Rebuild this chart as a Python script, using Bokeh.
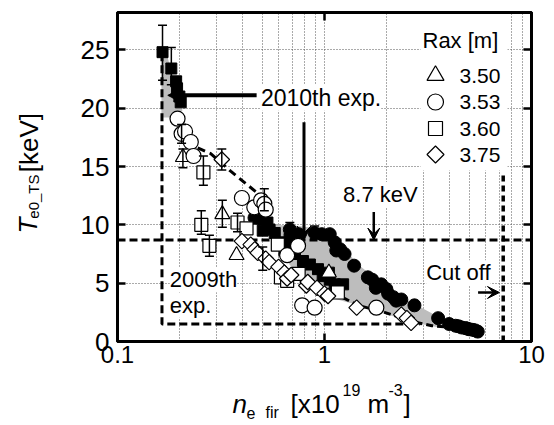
import math
from bokeh.plotting import figure
from bokeh.layouts import row, column
from bokeh.models import (Range1d, FixedTicker, LogAxis, LinearAxis, Label, Arrow,
                          VeeHead, NormalHead, TeeHead, Whisker, ColumnDataSource,
                          CustomJSTickFormatter)
from bokeh.embed import file_html
from bokeh.resources import INLINE

FONT = "Liberation Sans"

# ---------------- data ----------------
# 2010th experiment (filled markers)
fs_x = [0.165, 0.182, 0.192, 0.194, 0.199, 0.202, 0.473, 0.503, 0.53, 0.543, 0.575, 0.618,
        0.64, 0.678, 0.69, 0.72, 0.787, 0.85, 0.93, 0.98, 1.05, 1.06, 1.12, 1.23]
fs_y = [24.8, 23.4, 22.3, 21.7, 21.0, 20.5, 10.6, 9.5, 10.2, 9.6, 9.3, 8.5,
        7.8, 8.8, 8.1, 7.5, 6.9, 6.6, 6.2, 5.6, 5.9, 5.3, 4.9, 4.9]
fc_x = [0.459, 0.49, 0.68, 0.75, 0.896, 0.97, 1.06, 1.12, 1.14, 1.19, 1.25, 1.39, 1.62, 1.70,
        1.77, 1.88, 1.99, 2.03, 2.15, 2.22, 2.35, 2.72, 3.54, 4.0, 4.3, 4.45, 4.6, 4.8, 4.9,
        5.0, 5.2, 5.35, 5.5]
fc_y = [10.6, 10.5, 9.6, 9.2, 9.3, 9.2, 9.2, 8.5, 7.8, 7.9, 7.5, 6.5, 5.5, 5.3,
        4.6, 4.9, 4.5, 4.1, 3.8, 3.5, 3.6, 3.1, 2.0, 1.5, 1.35, 1.3, 1.2, 1.15, 1.1,
        1.05, 1.0, 0.95, 0.85]

# 2009th experiment (open markers), Rax [m]
rax_labels = ["3.50", "3.53", "3.60", "3.75"]
ot_x = [0.207, 0.321, 0.376, 1.05]                       # 3.50
ot_y = [15.8, 10.9, 7.4, 5.9]
oc_x = [0.195, 0.204, 0.212, 0.226, 0.233, 0.399, 0.458, 0.494, 0.512, 0.52, 0.66,
        0.745, 0.78, 0.896, 1.78]                        # 3.53
oc_y = [19.1, 17.8, 18.0, 17.1, 15.9, 12.3, 11.5, 12.1, 11.8, 11.3, 7.4,
        8.2, 3.1, 2.9, 2.9]
osq_x = [0.26, 0.254, 0.278, 0.38, 0.42, 0.595, 0.616, 0.66, 0.75, 1.16]   # 3.60
osq_y = [14.5, 10.0, 8.2, 10.2, 9.7, 8.3, 5.5, 5.2, 5.8, 4.2]
od_x = [0.319, 0.399, 0.44, 0.46, 0.476, 0.52, 0.54, 0.60, 0.64, 0.66, 0.69, 0.817,
        0.83, 0.92, 1.0, 1.04, 1.43, 2.35, 2.5, 2.62]    # 3.75
od_y = [15.6, 8.6, 8.3, 7.9, 7.6, 7.1, 6.8, 6.4, 5.9, 5.4, 5.7, 4.8,
        5.1, 4.6, 4.1, 3.9, 2.9, 2.3, 2.0, 1.6]

# error bars (x, lower, upper)
fs_err = dict(base=[0.165, 0.182, 0.194], lower=[22.4, 22.0, 20.9], upper=[27.1, 25.2, 22.7])
fc_err = dict(base=[0.68, 0.896], lower=[9.0, 8.8], upper=[10.2, 9.9])
oc_err = dict(base=[0.204, 0.512], lower=[17.0, 11.2], upper=[18.6, 13.1])
ot_err = dict(base=[0.207, 0.321], lower=[14.9, 9.8], upper=[16.5, 12.1])
osq_err = dict(base=[0.26, 0.254, 0.278, 0.38], lower=[13.4, 9.2, 7.3, 9.4],
               upper=[15.9, 11.2, 9.1, 11.0])
od_err = dict(base=[0.319, 0.503], lower=[14.7, 6.1], upper=[16.5, 8.1])

# shaded 2010 region
band1_x = [0.163, 0.172, 0.187, 0.206, 0.185, 0.163]
band1_y = [25.0, 24.8, 22.4, 19.8, 19.2, 19.2]
band2_x = [0.56, 0.75, 1.0, 1.2, 1.5, 2.0, 2.6, 3.4, 4.3, 5.3,
           5.3, 4.3, 3.3, 2.6, 1.95, 1.4, 1.0, 0.8, 0.65, 0.56]
band2_y = [10.0, 9.9, 9.6, 8.2, 6.4, 4.6, 3.4, 2.3, 1.6, 1.2,
           0.8, 1.05, 1.3, 1.7, 2.4, 3.2, 3.9, 5.0, 7.0, 9.0]
band_edge_x = [1.1, 1.45, 1.95, 2.6, 3.3, 4.1]
band_edge_y = [4.2, 3.1, 2.5, 1.75, 1.35, 1.2]
# 2009 trend line
trend_x = [0.20, 0.243, 0.282, 0.352, 0.476, 0.52]
trend_y = [18.2, 16.6, 16.1, 14.6, 12.7, 12.2]

TE_LIMIT = 8.7          # keV
CUTOFF_N = 7.3          # x10^19 m^-3
BOX_X = [0.164, 0.164, 2.9]
BOX_Y = [24.7, 1.5, 1.5]

x_ticks = [0.1, 1, 10]
y_ticks = [0, 5, 10, 15, 20, 25]
x_grid = [0.2, 0.3, 0.4, 0.5, 0.6, 0.7, 0.8, 0.9, 1, 2, 3, 4, 5, 6, 7, 8, 9]
y_grid = [5, 10, 15, 20, 25]

# ---------------- layout geometry (canvas pixels) ----------------
W, H = 554, 425
YL_W = 50          # width of the y-title strip
XL_H = 50          # height of the x-title strip
FL, FR, FT, FB = 117, 531, 12, 341     # frame edges on the whole canvas
XMIN, XMAX, YMIN, YMAX = 0.1, 10.0, 0.0, 28.2

p = figure(width=W - YL_W, height=H - XL_H, x_axis_type="log",
           x_range=Range1d(XMIN, XMAX), y_range=Range1d(YMIN, YMAX),
           output_backend="svg", toolbar_location=None, title=None,
           min_border_left=FL - YL_W, min_border_right=W - FR, min_border_top=FT,
           min_border_bottom=(H - XL_H) - FB)
p.background_fill_color = "white"
p.outline_line_color = "black"
p.outline_line_width = 3


def px2data(px, py):
    """canvas pixel -> data (used only for legend placement)"""
    lx = math.log10(XMIN) + (px - FL) / (FR - FL) * (math.log10(XMAX) - math.log10(XMIN))
    y = YMIN + (FB - py) / (FB - FT) * (YMAX - YMIN)
    return 10 ** lx, y


p.xaxis.ticker = FixedTicker(ticks=x_ticks)
p.xaxis.formatter = CustomJSTickFormatter(code="return tick.toString();")
p.yaxis.ticker = FixedTicker(ticks=y_ticks)
for ax, fs, so in [(p.xaxis[0], "24px", 4), (p.yaxis[0], "26px", 8)]:
    ax.major_tick_in = 8
    ax.major_tick_out = 0
    ax.major_tick_line_width = 2.5
    ax.minor_tick_line_color = None
    ax.axis_line_width = 3
    ax.major_label_text_font = FONT
    ax.major_label_text_font_size = fs
    ax.major_label_text_color = "black"
    ax.major_label_standoff = so

p.add_layout(LinearAxis(ticker=FixedTicker(ticks=y_ticks), major_tick_in=8, major_tick_out=0,
                        major_tick_line_width=2.5, minor_tick_line_color=None,
                        axis_line_width=3, formatter=CustomJSTickFormatter(code="return ' ';"),
                        major_label_text_font_size="2px", major_label_text_alpha=0,
                        major_label_standoff=0), "right")
p.add_layout(LogAxis(ticker=FixedTicker(ticks=x_ticks), major_tick_in=8, major_tick_out=0,
                     major_tick_line_width=2.5, minor_tick_line_color=None,
                     axis_line_width=3, formatter=CustomJSTickFormatter(code="return ' ';"),
                     major_label_text_font_size="2px", major_label_text_alpha=0,
                     major_label_standoff=0), "above")

p.xgrid.ticker = FixedTicker(ticks=x_grid)
p.ygrid.ticker = FixedTicker(ticks=y_grid)
for g in [p.xgrid[0], p.ygrid[0]]:
    g.grid_line_color = "#555555"
    g.grid_line_dash = "1 2"
    g.grid_line_width = 1

# legend background
lx0, ly0 = px2data(420, 170)
lx1, ly1 = px2data(507, FT)
p.quad(left=[lx0], right=[lx1], bottom=[ly0], top=[ly1], fill_color="white", line_color=None)

# shaded band
p.patch(band1_x, band1_y, fill_color="#bdbdbd", line_color=None)
p.patch(band2_x, band2_y, fill_color="#bdbdbd", line_color=None)
p.line(band_edge_x, band_edge_y, line_color="black", line_width=3, line_dash="7 4")

# dashed guides
p.line(BOX_X, BOX_Y, line_color="black", line_width=3, line_dash="8 4")
p.line([XMIN, XMAX], [TE_LIMIT, TE_LIMIT], line_color="black", line_width=3, line_dash="8 4")
p.line([CUTOFF_N, CUTOFF_N], [0, 14.3], line_color="black", line_width=3.5, line_dash="6 4")
p.line(trend_x, trend_y, line_color="black", line_width=3, line_dash="8 5")

# error bars
for err in [fs_err, fc_err, oc_err, ot_err, osq_err, od_err]:
    w = Whisker(source=ColumnDataSource(err), base="base", lower="lower", upper="upper",
                dimension="height", line_color="black", line_width=1.5, level="glyph",
                upper_head=TeeHead(size=9, line_width=1.5, line_color="black"),
                lower_head=TeeHead(size=9, line_width=1.5, line_color="black"))
    p.add_layout(w)

# markers
p.scatter(fs_x, fs_y, marker="square", size=11, fill_color="black", line_color="black")
p.scatter(fc_x, fc_y, marker="circle", size=13, fill_color="black", line_color="black")
p.scatter(osq_x, osq_y, marker="square", size=13, fill_color="white", line_color="black",
          line_width=1.2)
p.scatter(ot_x, ot_y, marker="triangle", size=15, fill_color="white", line_color="black",
          line_width=1.2)
p.scatter(oc_x, oc_y, marker="circle", size=15, fill_color="white", line_color="black",
          line_width=1.2)
p.scatter(od_x, od_y, marker="square", size=11, angle=math.pi / 4, fill_color="white",
          line_color="black", line_width=1.2)

# annotations
p.add_layout(Arrow(end=NormalHead(size=13, fill_color="black", line_color="black"),
                   x_start=0.47, y_start=21.1, x_end=0.175, y_end=21.1,
                   line_width=4, line_color="black"))
p.add_layout(Arrow(end=VeeHead(size=14, fill_color="black", line_color="black"),
                   x_start=0.796, y_start=18.8, x_end=0.796, y_end=TE_LIMIT,
                   line_width=3, line_color="black"))
p.add_layout(Arrow(end=VeeHead(size=12, fill_color="black", line_color="black"),
                   x_start=1.73, y_start=11.1, x_end=1.73, y_end=TE_LIMIT,
                   line_width=2.5, line_color="black"))
p.add_layout(Arrow(end=VeeHead(size=12, fill_color="black", line_color="black"),
                   x_start=5.52, y_start=4.2, x_end=7.0, y_end=4.2,
                   line_width=2.5, line_color="black"))


def txt(fig, x, y, s, size="22px", **kw):
    fig.add_layout(Label(x=x, y=y, text=s, text_font=FONT, text_font_size=size,
                         text_color="black", **kw))


txt(p, 0.493, 20.9, "2010th exp.", "23px", text_baseline="middle", background_fill_color="white")
txt(p, 1.229, 12.6, "8.7 keV", text_baseline="middle", background_fill_color="white")
txt(p, 3.10, 5.9, "Cut off", text_baseline="middle", background_fill_color="white")
txt(p, 0.179, 5.3, "2009th", text_baseline="middle", background_fill_color="white")
txt(p, 0.179, 3.1, "exp.", text_baseline="middle", background_fill_color="white")

# custom legend
tx, ty = px2data(422, 40)
txt(p, tx, ty, "Rax [m]", text_baseline="middle")
leg_rows = [75, 101.5, 128, 154]
leg_markers = [("triangle", 17, 0), ("circle", 16, 0), ("square", 14, 0), ("square", 12, math.pi / 4)]
for (mk, sz, ang), rw, lab in zip(leg_markers, leg_rows, rax_labels):
    mx, my = px2data(435, rw)
    p.scatter([mx], [my], marker=mk, size=sz, angle=ang, fill_color="white",
              line_color="black", line_width=1.2)
    lx, lyy = px2data(459, rw)
    txt(p, lx, lyy, lab, "21px", text_baseline="middle")


# ---------------- axis-title strips ----------------
def strip(w, h):
    f = figure(width=w, height=h, x_range=Range1d(0, w), y_range=Range1d(0, h),
               output_backend="svg", toolbar_location=None, min_border=0, title=None,
               x_axis_location=None, y_axis_location=None)
    f.outline_line_color = None
    f.grid.visible = False
    return f


ylab = strip(YL_W, H - XL_H)
xlab = strip(W, XL_H)

# empirical offsets of Bokeh's text anchor (px)
DY_X = -9           # horizontal strip: raise texts
DX_Y, DY_Y = -8, 19  # vertical strip: shift left and down


def ytxt(cx, cy, s, size, **kw):      # canvas coords -> y strip
    txt(ylab, cx + DX_Y, (H - XL_H) - (cy + DY_Y), s, size, text_baseline="alphabetic",
        text_align="left", angle=math.pi / 2, **kw)


def xtxt(cx, cy, s, size, **kw):      # canvas coords -> x strip
    txt(xlab, cx, H - (cy + DY_X), s, size, text_baseline="alphabetic", text_align="left", **kw)


ytxt(35, 233, "T", "26px", text_font_style="italic")
ytxt(41, 216, "e0_TS", "15px")
ytxt(36, 163, "[keV]", "26px")

xtxt(232, 412, "n", "26px", text_font_style="italic")
xtxt(246, 421, "e", "16px")
xtxt(265, 421, "fir", "16px")
xtxt(290, 412, "[x10", "26px")
xtxt(342, 398, "19", "16px")
xtxt(367, 412, "m", "26px")
xtxt(388, 398, "-3", "16px")
xtxt(403, 412, "]", "26px")

layout = column(row(ylab, p), xlab)
open("out.html", "w").write(file_html(layout, INLINE))
